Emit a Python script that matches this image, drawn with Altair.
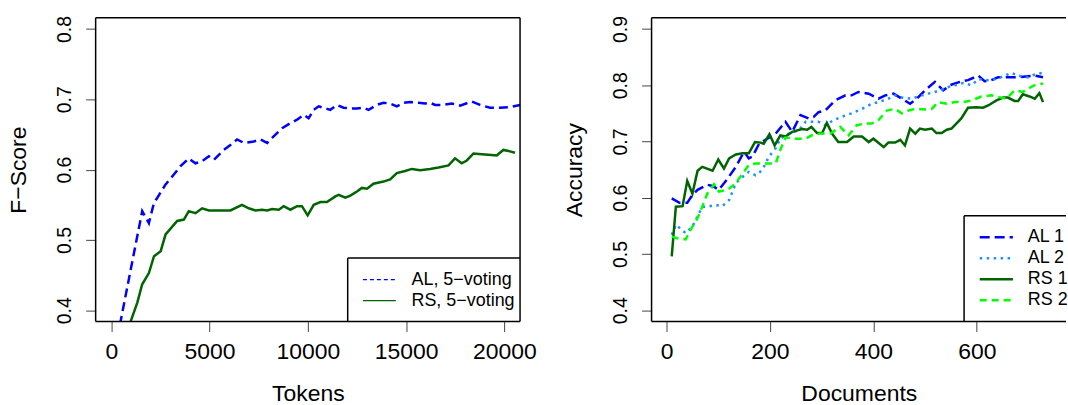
import altair as alt
import pandas as pd

FONT = "Liberation Sans"

# ---- left panel: F-score against number of annotated tokens ----
al_tokens = [300, 1000, 1570, 1910, 2170, 2340, 2760, 3180, 3520, 3940,
             4280, 4620, 4960, 5220, 5720, 6060, 6400, 6740, 7250, 7590,
             7930, 8180, 8690, 9110, 9450, 9790, 10040, 10300, 10550, 10800,
             11140, 11480, 11820, 12160, 12500, 12840, 13090, 13510, 13850, 14190,
             14530, 14870, 15210, 15630, 15970, 16220, 16480, 16900, 17330, 17750,
             18340, 18760, 19270, 19780, 20290, 20800, 21000]
al_fscore = [0.36, 0.46, 0.541, 0.524, 0.553, 0.560, 0.579, 0.593, 0.605, 0.616,
             0.609, 0.612, 0.619, 0.614, 0.628, 0.635, 0.643, 0.638, 0.640, 0.643,
             0.638, 0.645, 0.659, 0.666, 0.671, 0.678, 0.673, 0.685, 0.690, 0.688,
             0.685, 0.692, 0.688, 0.687, 0.687, 0.688, 0.685, 0.692, 0.695, 0.694,
             0.690, 0.695, 0.696, 0.695, 0.694, 0.695, 0.692, 0.692, 0.694, 0.691,
             0.697, 0.692, 0.688, 0.688, 0.689, 0.692, 0.693]

rs_tokens = [700, 980, 1320, 1570, 1910, 2170, 2510, 2760, 3100, 3350,
             3690, 3940, 4280, 4620, 4960, 5470, 6060, 6650, 6990, 7330,
             7670, 7930, 8180, 8520, 8770, 9110, 9450, 9700, 9990, 10300,
             10640, 10970, 11400, 11570, 11910, 12160, 12500, 12750, 13010, 13340,
             13850, 14190, 14530, 14950, 15290, 15720, 16220, 16650, 17160, 17490,
             17830, 18090, 18430, 18850, 19190, 19610, 19950, 20290, 20540]
rs_fscore = [0.35, 0.384, 0.411, 0.437, 0.453, 0.477, 0.484, 0.508, 0.519, 0.527,
             0.529, 0.541, 0.538, 0.545, 0.542, 0.542, 0.542, 0.550, 0.545, 0.542,
             0.543, 0.542, 0.544, 0.543, 0.548, 0.543, 0.548, 0.548, 0.535, 0.550,
             0.554, 0.554, 0.562, 0.564, 0.560, 0.563, 0.569, 0.574, 0.573, 0.580,
             0.583, 0.586, 0.595, 0.598, 0.601, 0.599, 0.601, 0.603, 0.606, 0.616,
             0.609, 0.613, 0.623, 0.622, 0.621, 0.620, 0.628, 0.626, 0.624]

# ---- right panel: accuracy against number of annotated documents ----
al1_docs = [10, 25, 40, 50, 60, 79, 89, 101, 118, 134,
            150, 159, 166, 179, 195, 211, 230, 243, 259, 275,
            285, 294, 307, 326, 346, 358, 371, 391, 410, 423,
            439, 455, 471, 484, 500, 519, 535, 548, 567, 583,
            603, 615, 628, 641, 657, 680, 699, 712, 728]
al1_acc = [0.599, 0.591, 0.591, 0.605, 0.614, 0.623, 0.621, 0.614, 0.634, 0.655,
           0.682, 0.670, 0.673, 0.696, 0.705, 0.714, 0.735, 0.717, 0.747, 0.741,
           0.744, 0.752, 0.755, 0.773, 0.782, 0.782, 0.788, 0.785, 0.776, 0.782,
           0.785, 0.776, 0.767, 0.776, 0.791, 0.806, 0.791, 0.800, 0.806, 0.809,
           0.817, 0.807, 0.809, 0.814, 0.814, 0.814, 0.816, 0.817, 0.814]

al2_docs = [10, 18, 37, 50, 69, 79, 95, 108, 121, 134,
            147, 159, 172, 185, 198, 211, 220, 236, 256, 269,
            281, 294, 307, 323, 339, 358, 378, 397, 410, 429,
            442, 455, 474, 487, 506, 519, 538, 548, 558, 574,
            590, 603, 619, 638, 654, 667, 680, 699, 712, 728]
al2_acc = [0.534, 0.552, 0.537, 0.549, 0.584, 0.584, 0.587, 0.585, 0.596, 0.626,
           0.637, 0.646, 0.640, 0.649, 0.673, 0.688, 0.705, 0.714, 0.720, 0.735,
           0.735, 0.735, 0.729, 0.738, 0.744, 0.750, 0.758, 0.767, 0.770, 0.776,
           0.782, 0.778, 0.776, 0.780, 0.785, 0.788, 0.794, 0.798, 0.800, 0.804,
           0.800, 0.811, 0.809, 0.811, 0.817, 0.822, 0.817, 0.814, 0.819, 0.822]

rs1_docs = [10, 18, 31, 40, 50, 60, 69, 89, 100, 111,
            121, 134, 147, 159, 171, 182, 188, 199, 209, 220,
            230, 243, 262, 272, 280, 291, 301, 310, 320, 332,
            349, 362, 378, 391, 400, 420, 429, 442, 452, 461,
            471, 481, 490, 500, 513, 522, 532, 542, 551, 570,
            583, 599, 612, 622, 638, 651, 660, 673, 680, 689,
            702, 712, 721, 728]
rs1_acc = [0.496, 0.584, 0.585, 0.630, 0.607, 0.648, 0.655, 0.648, 0.668, 0.652,
           0.670, 0.677, 0.679, 0.679, 0.699, 0.698, 0.696, 0.713, 0.693, 0.711,
           0.709, 0.717, 0.722, 0.721, 0.726, 0.715, 0.715, 0.733, 0.714, 0.699,
           0.699, 0.709, 0.709, 0.699, 0.705, 0.690, 0.698, 0.698, 0.703, 0.693,
           0.723, 0.714, 0.723, 0.721, 0.723, 0.715, 0.715, 0.721, 0.723, 0.741,
           0.760, 0.761, 0.760, 0.764, 0.773, 0.778, 0.778, 0.772, 0.772, 0.784,
           0.780, 0.776, 0.786, 0.770]

rs2_docs = [10, 21, 37, 47, 60, 69, 79, 92, 101, 118,
            134, 147, 159, 172, 188, 198, 211, 220, 230, 249,
            269, 281, 297, 317, 336, 352, 368, 384, 397, 410,
            426, 442, 455, 468, 481, 500, 513, 525, 542, 558,
            574, 590, 609, 628, 648, 657, 673, 689, 699, 712,
            728]
rs2_acc = [0.531, 0.528, 0.526, 0.544, 0.564, 0.584, 0.608, 0.624, 0.611, 0.614,
           0.626, 0.643, 0.658, 0.661, 0.661, 0.661, 0.661, 0.685, 0.707, 0.705,
           0.705, 0.711, 0.714, 0.714, 0.726, 0.711, 0.729, 0.732, 0.732, 0.738,
           0.755, 0.758, 0.750, 0.755, 0.758, 0.757, 0.758, 0.770, 0.767, 0.770,
           0.770, 0.773, 0.780, 0.782, 0.778, 0.776, 0.791, 0.788, 0.794, 0.800,
           0.803]

left_x_ticks = [0, 5000, 10000, 15000, 20000]
left_y_ticks = [0.4, 0.5, 0.6, 0.7, 0.8]
right_x_ticks = [0, 200, 400, 600]
right_y_ticks = [0.4, 0.5, 0.6, 0.7, 0.8, 0.9]

left_legend_labels = ["AL, 5\u2212voting", "RS, 5\u2212voting"]
right_legend_labels = ["AL 1", "AL 2", "RS 1", "RS 2"]

LW, LH = 426, 305
RW, RH = 416, 305

TICK_COLOR = "#444444"


def x_axis(ticks, title, width):
    return alt.Axis(values=ticks, format="d", title=title, grid=False, domain=False,
                    tickSize=10, tickColor=TICK_COLOR, tickWidth=1,
                    labelFontSize=23, labelPadding=27, labelBaseline="alphabetic",
                    labelFlush=False, labelOverlap=False, labelColor="black",
                    titleFontSize=23, titleFontWeight="normal", titleColor="black",
                    titleX=width / 2, titleY=79, titleBaseline="alphabetic",
                    titleAlign="center")


def y_axis(ticks, title, height):
    return alt.Axis(values=ticks, format=".1f", title=title, grid=False, domain=False,
                    tickSize=10, tickColor=TICK_COLOR, tickWidth=1,
                    labelFontSize=19.5, labelPadding=15.5, labelAngle=270,
                    labelAlign="center", labelBaseline="alphabetic",
                    labelFlush=False, labelOverlap=False, labelColor="black",
                    titleFontSize=23, titleFontWeight="normal", titleColor="black",
                    titleAngle=270, titleX=-70, titleY=height / 2,
                    titleAlign="center", titleBaseline="alphabetic")


def series(xs, ys, xname, yname, xscale, yscale, xaxis, yaxis, color, width, dash=None):
    df = pd.DataFrame({xname: xs, yname: ys})
    opts = dict(color=color, strokeWidth=width, clip=True)
    if dash:
        opts["strokeDash"] = dash
    return alt.Chart(df).mark_line(**opts).encode(
        x=alt.X(f"{xname}:Q", scale=xscale, axis=xaxis),
        y=alt.Y(f"{yname}:Q", scale=yscale, axis=yaxis),
    )


ONE = pd.DataFrame({"k": [0]})


def hrule(x0, x1, y, color="black", width=1.5, dash=None):
    opts = dict(color=color, strokeWidth=width)
    if dash:
        opts["strokeDash"] = dash
    return alt.Chart(ONE).mark_rule(**opts).encode(
        x=alt.value(x0), x2=alt.value(x1), y=alt.value(y))


def vrule(x, y0, y1, color="black", width=1.5):
    return alt.Chart(ONE).mark_rule(color=color, strokeWidth=width).encode(
        x=alt.value(x), y=alt.value(y0), y2=alt.value(y1))


def label(text, x, y, size=18):
    return alt.Chart(pd.DataFrame({"t": [text]})).mark_text(
        align="left", baseline="middle", fontSize=size, font=FONT, color="black"
    ).encode(text="t:N", x=alt.value(x), y=alt.value(y))


# ---------------- left panel ----------------
lx = alt.Scale(domain=[-800, 20800], nice=False, zero=False)
ly = alt.Scale(domain=[0.384, 0.816], nice=False, zero=False)
lxa = x_axis(left_x_ticks, "Tokens", LW)
lya = y_axis(left_y_ticks, "F\u2212Score", LH)

left_layers = [
    series(al_tokens, al_fscore, "tokens", "fscore", lx, ly, lxa, lya, "#0000ff", 2.5, [9, 5]),
    series(rs_tokens, rs_fscore, "tokens", "fscore", lx, ly, lxa, lya, "#006400", 2.5),
    # frame
    hrule(0, LW, 0), hrule(0, LW, LH), vrule(0, 0, LH), vrule(LW, 0, LH),
    # legend box
    hrule(253, LW, 241.3), vrule(253, 241.3, LH),
]
left_styles = [("#0000ff", [4, 3]), ("#006400", None)]
for i, (txt, (col, dash)) in enumerate(zip(left_legend_labels, left_styles)):
    yy = 263 + 21 * i
    left_layers.append(hrule(268.3, 301.3, yy, color=col, width=1.2, dash=dash))
    left_layers.append(label(txt, 317, yy))

left = alt.layer(*left_layers).properties(width=LW, height=LH)

# ---------------- right panel ----------------
rx = alt.Scale(domain=[-29, 772.5], nice=False, zero=False)
ry = alt.Scale(domain=[0.38, 0.92], nice=False, zero=False)
rxa = x_axis(right_x_ticks, "Documents", RW)
rya = y_axis(right_y_ticks, "Accuracy", RH)

right_styles = [("#0000ff", [10, 5]), ("#1e90ff", [2.5, 4.5]), ("#006400", None), ("#00ff00", [7, 5])]
right_series = [(al1_docs, al1_acc), (al2_docs, al2_acc), (rs1_docs, rs1_acc), (rs2_docs, rs2_acc)]

right_layers = []
for (xs, ys), (col, dash) in zip(right_series, right_styles):
    right_layers.append(series(xs, ys, "docs", "acc", rx, ry, rxa, rya, col, 2.5, dash))
right_layers += [hrule(0, RW, 0), hrule(0, RW, RH), vrule(0, 0, RH),
                 hrule(313.7, RW, 198.7), vrule(313.7, 198.7, RH)]
for i, (txt, (col, dash)) in enumerate(zip(right_legend_labels, right_styles)):
    yy = 220.4 + 21.1 * i
    right_layers.append(hrule(329.4, 362.7, yy, color=col, width=2.5, dash=dash))
    right_layers.append(label(txt, 377.7, yy))

right = alt.layer(*right_layers).properties(width=RW, height=RH)

chart = alt.hconcat(left, right, spacing=132, bounds="flush").properties(
    padding={"left": 8, "top": 14, "right": 0, "bottom": 0}
).configure(font=FONT).configure_view(strokeWidth=0)

chart.save("out.html", embed_options={"renderer": "svg", "actions": False})
